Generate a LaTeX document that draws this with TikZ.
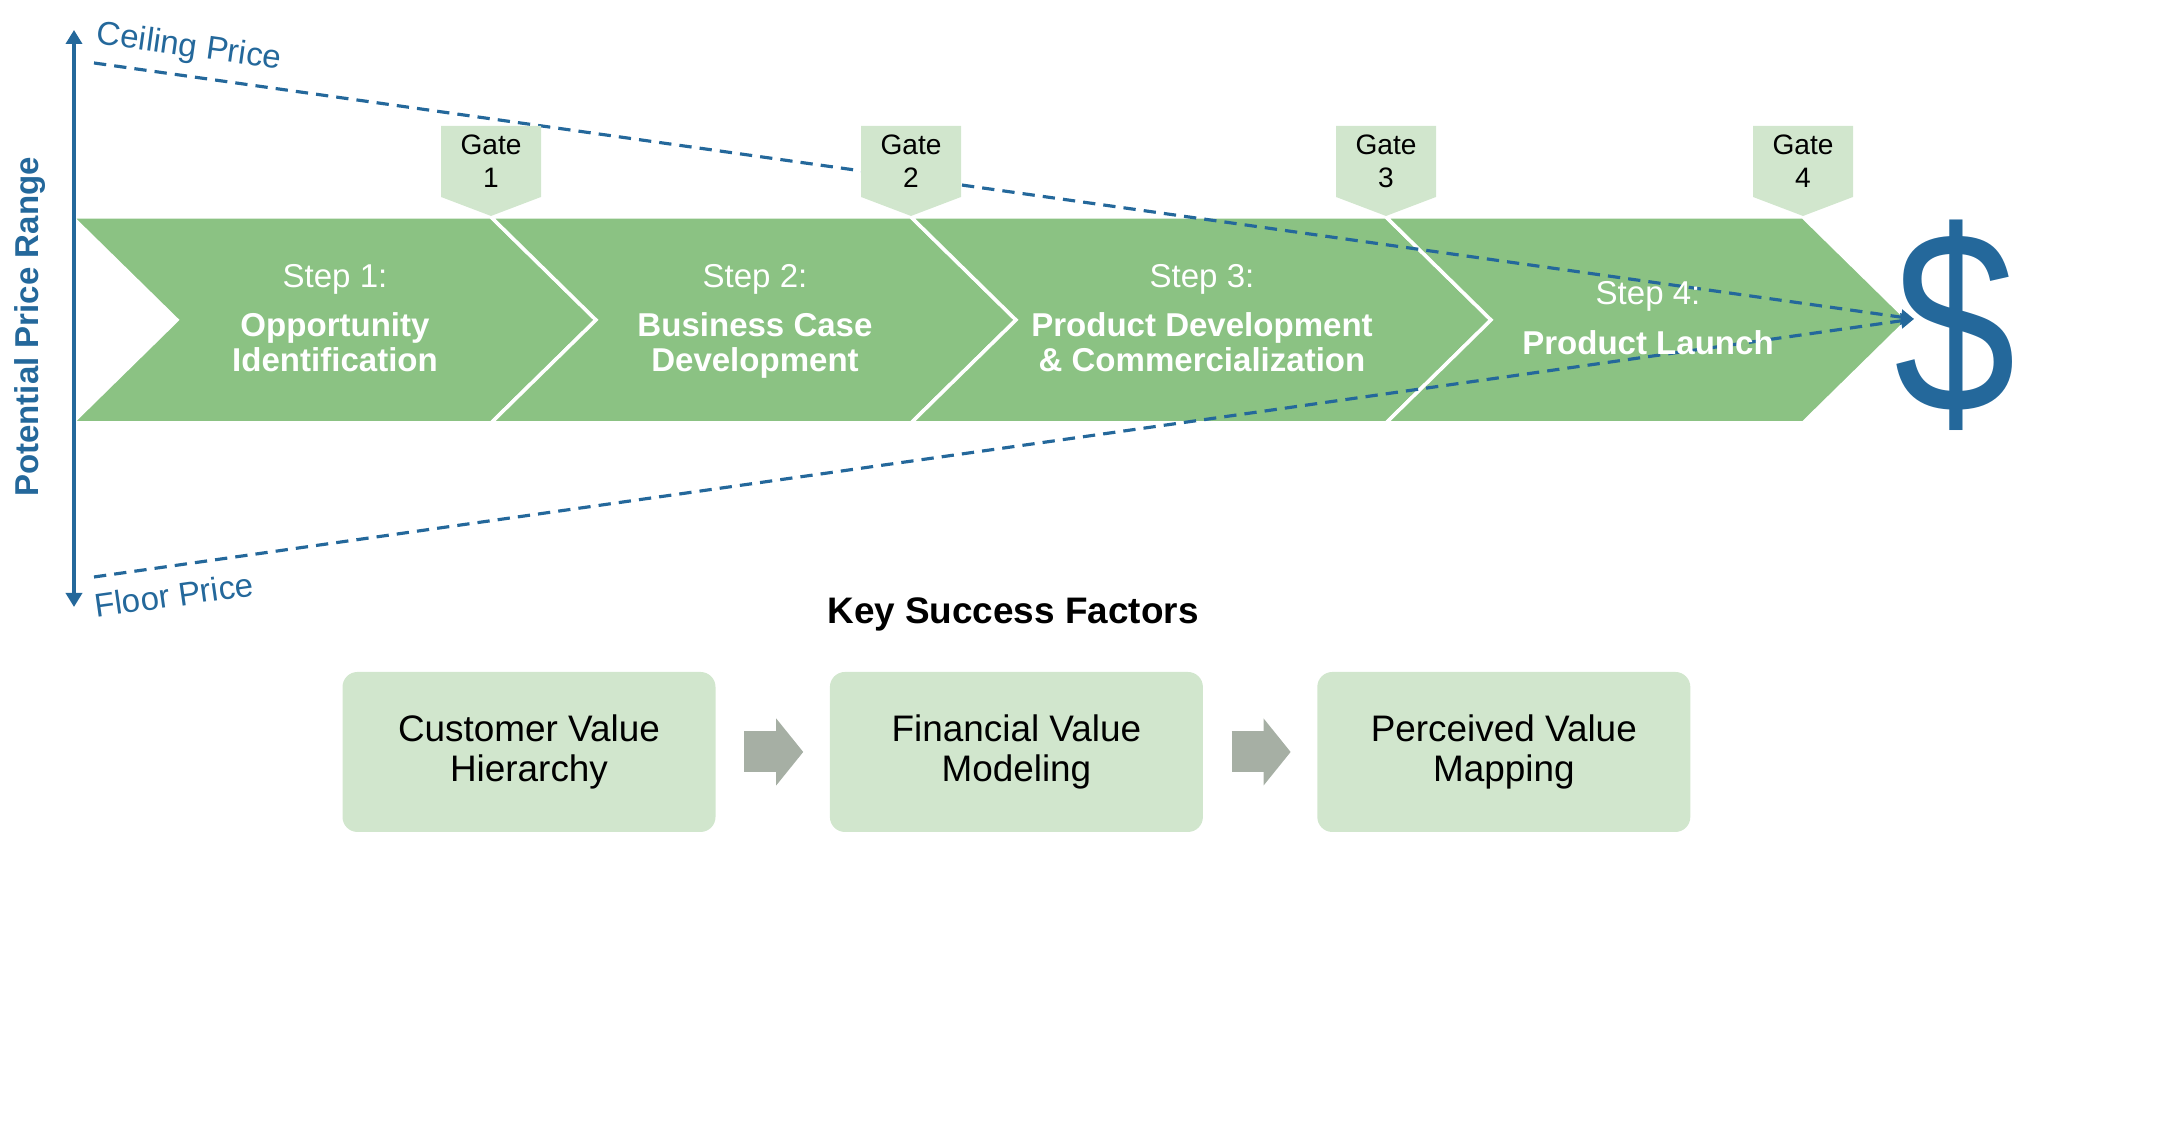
\documentclass[tikz,border=0pt]{standalone}
\usepackage{fontspec}
\setmainfont{Liberation Sans}
\usepackage{tikz}
\usetikzlibrary{arrows.meta, positioning, calc}

\definecolor{priceblue}{RGB}{36,104,155}
\definecolor{chevgreen}{RGB}{139,194,131}
\definecolor{gategreen}{RGB}{209,230,205}
\definecolor{arrowgrey}{RGB}{166,175,164}

\begin{document}
\begin{tikzpicture}[
    node distance=1.13cm,
    chev/.style={fill=chevgreen, draw=white, line width=1pt},
    gate/.style={fill=gategreen},
    gatetext/.style={font=\fontsize{8}{9.4}\selectfont, align=center, text=black},
    steptext/.style={font=\fontsize{9.4}{10}\selectfont, align=center, text=white, text depth=0pt},
    pricetext/.style={font=\fontsize{9.4}{11}\selectfont, text=priceblue},
    priceline/.style={priceblue, line width=0.9pt, dash pattern=on 3.5pt off 2.3pt},
    factor/.style={rectangle, rounded corners=0.15cm, fill=gategreen, minimum width=3.73cm, minimum height=1.6cm, align=center, font=\fontsize{10.5}{11.4}\selectfont},
    kfarrow/.style={draw=arrowgrey, line width=0.41cm, shorten <=0.28cm, shorten >=0.26cm, -{Triangle[width=0.67cm, length=0.27cm, line width=0pt]}}
]
\useasboundingbox (0,0) rectangle (21.67,11.30);

% Chevrons
\filldraw[chev] (0.72,9.13) -- (4.91,9.13) -- (5.96,8.10) -- (4.91,7.07) -- (0.72,7.07) -- (1.77,8.10) -- cycle;
\filldraw[chev] (4.91,9.13) -- (9.11,9.13) -- (10.16,8.10) -- (9.11,7.07) -- (4.91,7.07) -- (5.96,8.10) -- cycle;
\filldraw[chev] (9.11,9.13) -- (13.86,9.13) -- (14.91,8.10) -- (13.86,7.07) -- (9.11,7.07) -- (10.16,8.10) -- cycle;
\filldraw[chev] (13.86,9.13) -- (18.03,9.13) -- (19.08,8.10) -- (18.03,7.07) -- (13.86,7.07) -- (14.91,8.10) -- cycle;

% Price range lines
\coordinate (ceil) at (0.94,10.67);
\coordinate (floor) at (0.94,5.53);
\coordinate (tip) at (19.14,8.11);
\draw[priceline, -{Triangle[length=0.13cm, width=0.15cm]}] (ceil) -- (tip);
\draw[priceline, -{Triangle[length=0.13cm, width=0.15cm]}] (floor) -- (tip);

% Gates
\fill[gate] (4.41,10.04) -- (5.41,10.04) -- (5.41,9.33) -- (4.91,9.14) -- (4.41,9.33) -- cycle;
\fill[gate] (8.61,10.04) -- (9.61,10.04) -- (9.61,9.33) -- (9.11,9.14) -- (8.61,9.33) -- cycle;
\fill[gate] (13.36,10.04) -- (14.36,10.04) -- (14.36,9.33) -- (13.86,9.14) -- (13.36,9.33) -- cycle;
\fill[gate] (17.53,10.04) -- (18.53,10.04) -- (18.53,9.33) -- (18.03,9.14) -- (17.53,9.33) -- cycle;
\node[gatetext] (g1) at (4.91,9.69) {Gate\\1};
\node[gatetext] (g2) at (9.11,9.69) {Gate\\2};
\node[gatetext] (g3) at (13.86,9.69) {Gate\\3};
\node[gatetext] (g4) at (18.03,9.69) {Gate\\4};

% Steps
\node[steptext] (s1) at (3.35,8.12) {Step 1:\\[4pt]\textbf{Opportunity}\\\textbf{Identification}};
\node[steptext] (s2) at (7.55,8.12) {Step 2:\\[4pt]\textbf{Business Case}\\\textbf{Development}};
\node[steptext] (s3) at (12.02,8.12) {Step 3:\\[4pt]\textbf{Product Development}\\\textbf{\& Commercialization}};
\node[steptext] (s4) at (16.48,8.12) {Step 4:\\[4pt]\textbf{Product Launch}};

% Price axis
\coordinate (axbot) at (0.74,5.23);
\coordinate (axtop) at (0.74,11.00);
\draw[priceblue, line width=1.4pt, {Triangle[length=0.14cm, width=0.16cm]}-{Triangle[length=0.14cm, width=0.16cm]}] (axbot) -- (axtop);
\node[pricetext, rotate=-8] (ceiltext) at (1.89,10.82) {Ceiling Price};
\node[pricetext, rotate=8] (floortext) at (1.74,5.35) {Floor Price};
\node[pricetext, font=\fontsize{9.4}{11}\selectfont\bfseries, rotate=90] (range) at (0.30,8.03) {Potential Price Range};
\node[text=priceblue, font=\fontsize{74}{74}\selectfont, xscale=0.84] (dollar) at (19.55,8.05) {\$};

% Key success factors
\node[font=\fontsize{10.5}{12}\selectfont\bfseries] (ksf) at (10.13,5.16) {Key Success Factors};
\node[factor] (k1) at (5.29,3.78) {Customer Value\\Hierarchy};
\node[factor, right=of k1] (k2) {Financial Value\\Modeling};
\node[factor, right=of k2] (k3) {Perceived Value\\Mapping};
\draw[kfarrow] (k1) -- (k2);
\draw[kfarrow] (k2) -- (k3);
\end{tikzpicture}
\end{document}
